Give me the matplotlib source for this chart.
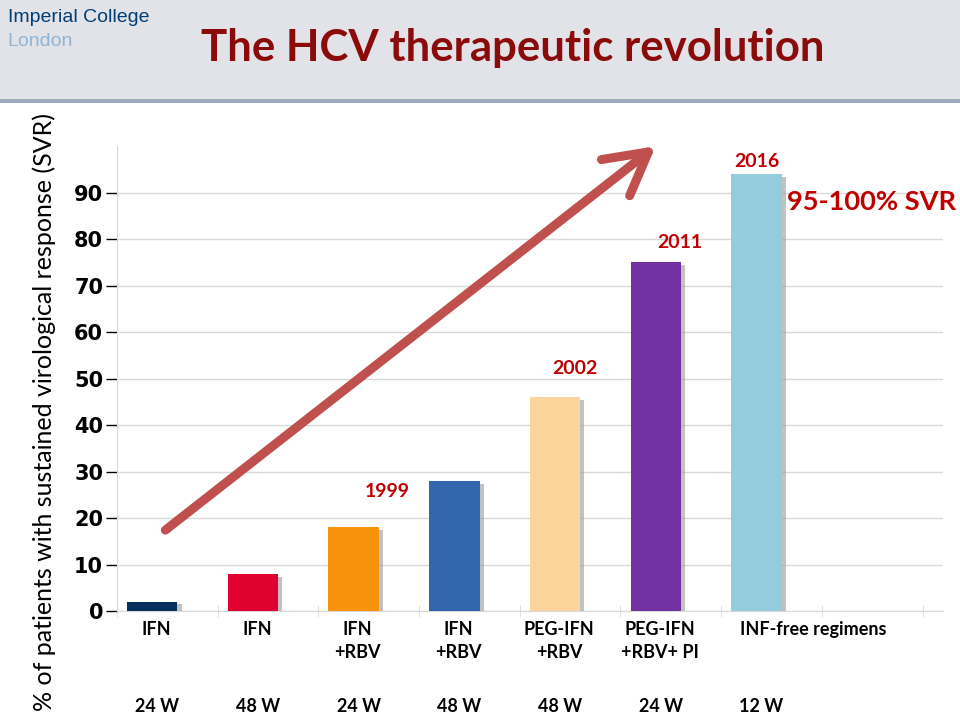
import matplotlib
matplotlib.use("Agg")
import matplotlib.pyplot as plt
import matplotlib.patheffects as pe
from matplotlib.patches import Rectangle
from matplotlib.ticker import FixedLocator

# data
regimens = ["IFN", "IFN", "IFN\n+RBV", "IFN\n+RBV", "PEG-IFN\n+RBV", "PEG-IFN\n+RBV+ PI", "INF-free regimens"]
durations = ["24 W", "48 W", "24 W", "48 W", "48 W", "24 W", "12 W"]
svr = [2, 8, 18, 28, 46, 75, 94]
years = ["", "", "1999", "", "2002", "2011", "2016"]
bar_colors = ["#062f5f", "#df0030", "#f7930b", "#3267ad", "#fcd59c", "#7131a1", "#93cddd"]

# where the year tags sit relative to their bar (x shift, height above bar)
year_dx = [0, 0, 0.33, 0, 0.2, 0.24, 0.0]
year_dy = [0, 0, 7.7, 0, 6.2, 4.3, 2.8]

DARK_RED = "#c00000"
CAL = "Lato"

fig = plt.figure(figsize=(9.6, 7.2), dpi=100)
fig.patch.set_facecolor("white")

# slide header band
fig.patches.append(Rectangle((0, 0.861), 1, 0.139, transform=fig.transFigure,
                             facecolor="#e2e3e8", edgecolor="none", zorder=0))
fig.patches.append(Rectangle((0, 0.857), 1, 0.005, transform=fig.transFigure,
                             facecolor="#9aabbe", edgecolor="none", zorder=0))
fig.text(0.008, 0.976, "Imperial College", color="#003e74", fontsize=14,
         family="Liberation Sans", ha="left", va="center")
fig.text(0.008, 0.942, "London", color="#8fb4d6", fontsize=14,
         family="Liberation Sans", ha="left", va="center")
fig.text(0.534, 0.934, "The HCV therapeutic revolution", color="#8b0b0b",
         fontsize=31.5, fontweight="bold", family=CAL, ha="center", va="center")

ax = fig.add_axes([0.1219, 0.1514, 0.8601, 0.6456])
x = list(range(len(svr)))
bars = ax.bar(x, svr, width=0.5, color=bar_colors, zorder=3)
for b in bars:
    b.set_path_effects([pe.SimplePatchShadow(offset=(3, -2), shadow_rgbFace="#9a9a9a", alpha=0.6),
                        pe.Normal()])

ax.set_xlim(-0.35, 7.85)
ax.set_ylim(0, 100)
ax.set_yticks(range(0, 100, 10))
ax.set_yticklabels([str(v) for v in range(0, 100, 10)], fontsize=15,
                   fontweight="bold", family="DejaVu Sans")
ax.tick_params(axis="y", length=8, width=1, color="black", pad=2)
ax.set_xticks([])
ax.xaxis.set_minor_locator(FixedLocator([i - 0.35 for i in range(9)]))
ax.tick_params(axis="x", which="minor", length=8, color="#d9d9d9", direction="inout")
ax.grid(axis="y", color="#d9d9d9", lw=1, zorder=0)
for s in ["top", "right"]:
    ax.spines[s].set_visible(False)
ax.spines["left"].set_color("#d9d9d9")
ax.spines["bottom"].set_color("#d9d9d9")

ax.set_ylabel("% of patients with sustained virological response (SVR)", family=CAL,
              fontsize=18)
ax.yaxis.set_label_coords(-0.074, 0.428)

# category and duration labels under the axis
tr = ax.get_xaxis_transform()
for i, (lab, dur) in enumerate(zip(regimens, durations)):
    if i == len(regimens) - 1:
        ax.text(i - 0.16, -0.022, lab, transform=tr, ha="left", va="top", fontsize=13,
                fontweight="bold", family=CAL, linespacing=1.4)
    else:
        ax.text(i + 0.04, -0.022, lab, transform=tr, ha="center", va="top", fontsize=13,
                fontweight="bold", family=CAL, linespacing=1.4)
    ax.text(i + 0.05, -0.206, dur, transform=tr, ha="center", va="center", fontsize=13,
            fontweight="bold", family=CAL)

# year markers
for i, (yr, v) in enumerate(zip(years, svr)):
    if yr:
        ax.text(i + year_dx[i], v + year_dy[i], yr, ha="center", va="center", color=DARK_RED,
                fontsize=14, fontweight="bold", family=CAL)

ax.text(6.3, 88, "95-100% SVR", ha="left", va="center", color=DARK_RED,
        fontsize=19.6, fontweight="bold", family=CAL)

# the big trend arrow
ax.annotate("", xy=(5.0, 100), xytext=(0.13, 17.4), annotation_clip=False,
            arrowprops=dict(arrowstyle="->,head_length=1.0,head_width=0.55", lw=6.5,
                            color="#c0504d", mutation_scale=30, capstyle="round",
                            joinstyle="round", shrinkA=0, shrinkB=0), zorder=5)

fig.savefig("out.png", dpi=100)
